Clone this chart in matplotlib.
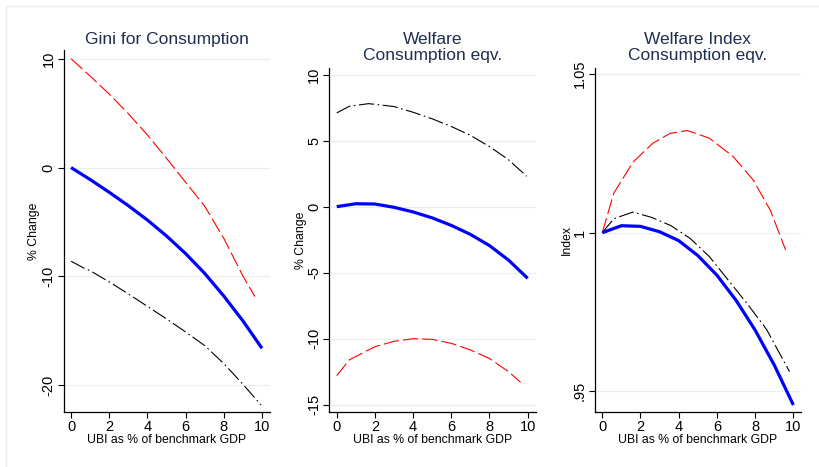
import matplotlib
matplotlib.use("Agg")
import matplotlib.pyplot as plt

plt.rcParams['font.family'] = ['Liberation Sans', 'DejaVu Sans']
plt.rcParams['lines.scale_dashes'] = False

# UBI size (% of benchmark GDP) for the central estimate
ubi = [0, 1, 2, 3, 4, 5, 6, 7, 8, 9, 10]

# Gini for consumption, % change
gini_mid = [0, -1.1, -2.27, -3.5, -4.82, -6.28, -7.9, -9.72, -11.8, -14.08, -16.6]
gini_hi_x = [0, 1, 2, 3, 4, 5, 6, 7, 8, 9, 9.63]
gini_hi = [10, 8.4, 6.75, 4.95, 3.0, 0.85, -1.35, -3.55, -6.5, -9.95, -11.85]
gini_lo_x = [0, 0.66, 1, 2, 3, 4, 5, 6, 7, 8, 9, 9.95]
gini_lo = [-8.6, -9.22, -9.47, -10.5, -11.6, -12.75, -13.9, -15.1, -16.35, -18.0, -19.9, -21.8]

# Welfare, consumption equivalent, % change
wel_mid = [0, 0.22, 0.2, -0.05, -0.4, -0.85, -1.42, -2.1, -2.95, -4.05, -5.43]
wel_hi_x = [0, 0.66, 1.66, 2, 3, 4, 5, 6, 7, 8, 9, 9.95]
wel_hi = [7.1, 7.6, 7.8, 7.75, 7.58, 7.15, 6.65, 6.07, 5.4, 4.55, 3.55, 2.3]
wel_lo_x = [0, 0.66, 2, 3, 4, 5, 6, 7, 8, 9, 9.63]
wel_lo = [-12.8, -11.6, -10.6, -10.2, -10.0, -10.05, -10.35, -10.85, -11.5, -12.5, -13.3]

# Welfare index, consumption equivalent
idx_mid = [1, 1.0022, 1.002, 1.0003, 0.9975, 0.9928, 0.9866, 0.9787, 0.9693, 0.9583, 0.9457]
idx_lo_x = [0, 0.6, 1.6, 2.6, 3.6, 4.6, 5.6, 6.6, 7.6, 8.6, 9.8]
idx_lo = [1, 1.0044, 1.0065, 1.0048, 1.0022, 0.9982, 0.9925, 0.985, 0.9775, 0.9695, 0.9562]
idx_hi_x = [0, 0.6, 1.6, 2.65, 3.55, 4.45, 5.6, 6.85, 7.9, 8.8, 9.6]
idx_hi = [1, 1.0124, 1.0222, 1.0282, 1.0313, 1.0322, 1.0298, 1.024, 1.0166, 1.007, 0.9945]

W, H = 820, 467
fig = plt.figure(figsize=(W / 100, H / 100), dpi=100)
fig.patch.set_facecolor('white')

# faint outer frame
frame_col = '#e6edf0'
fig.add_artist(plt.Line2D([6 / W, 6 / W], [0, 1 - 6 / H], color=frame_col, lw=1))
fig.add_artist(plt.Line2D([6 / W, 1], [1 - 6 / H, 1 - 6 / H], color=frame_col, lw=1))

title_col = '#1f2d4e'
red_dash = (0, (11, 3))
black_dashdot = (0, (11, 2.5, 1.2, 2.5))


def panel(left, right, top, xlim, ylim, yticks, ylabels, ylabel, title, title_pad, ylab_x):
    ax = fig.add_axes([left / W, 1 - 412 / H, (right - left) / W, (412 - top) / H])
    ax.set_xlim(xlim)
    ax.set_ylim(ylim)
    for s in ['top', 'right']:
        ax.spines[s].set_visible(False)
    for s in ['left', 'bottom']:
        ax.spines[s].set_color('black')
        ax.spines[s].set_linewidth(0.9)
    ax.set_xticks([0, 2, 4, 6, 8, 10])
    ax.set_yticks(yticks)
    ax.set_yticklabels(ylabels, rotation=90, va='center')
    ax.tick_params(axis='both', length=4, width=0.8, labelsize=10.5, pad=2)
    ax.grid(axis='y', color='#e8eff2', lw=0.9)
    ax.set_axisbelow(True)
    ax.set_xlabel('UBI as % of benchmark GDP', fontsize=8.8, labelpad=0)
    ax.set_ylabel(ylabel, fontsize=8.8)
    ax.yaxis.set_label_coords(ylab_x, 0.5)
    ax.set_title(title, fontsize=12.5, color=title_col, pad=title_pad, linespacing=1.05)
    return ax


ax1 = panel(64, 270, 50, (-0.37, 10.42), (-22.45, 10.8), [-20, -10, 0, 10],
            ['-20', '-10', '0', '10'], '% Change', 'Gini for Consumption', 4, -0.117)
ax1.plot(gini_hi_x, gini_hi, color='red', lw=0.8, ls=red_dash)
ax1.plot(gini_lo_x, gini_lo, color='black', lw=0.8, ls=black_dashdot)
ax1.plot(ubi, gini_mid, color='blue', lw=2.3, solid_capstyle='butt')

ax2 = panel(329.3, 535.7, 68, (-0.39, 10.42), (-15.55, 10.5), [-15, -10, -5, 0, 5, 10],
            ['-15', '-10', '-5', '0', '5', '10'], '% Change', 'Welfare\nConsumption eqv.', 6, -0.110)
ax2.plot(wel_lo_x, wel_lo, color='red', lw=0.8, ls=red_dash)
ax2.plot(wel_hi_x, wel_hi, color='black', lw=0.8, ls=black_dashdot)
ax2.plot(ubi, wel_mid, color='blue', lw=2.3, solid_capstyle='butt')

ax3 = panel(595, 801, 68, (-0.38, 10.4), (0.9435, 1.0519), [0.95, 1.0, 1.05],
            ['.95', '1', '1.05'], 'Index', 'Welfare Index\nConsumption eqv.', 6, -0.109)
ax3.plot(idx_hi_x, idx_hi, color='red', lw=0.8, ls=red_dash)
ax3.plot(idx_lo_x, idx_lo, color='black', lw=0.8, ls=black_dashdot)
ax3.plot(ubi, idx_mid, color='blue', lw=2.3, solid_capstyle='butt')

fig.savefig('out.png', dpi=100)
